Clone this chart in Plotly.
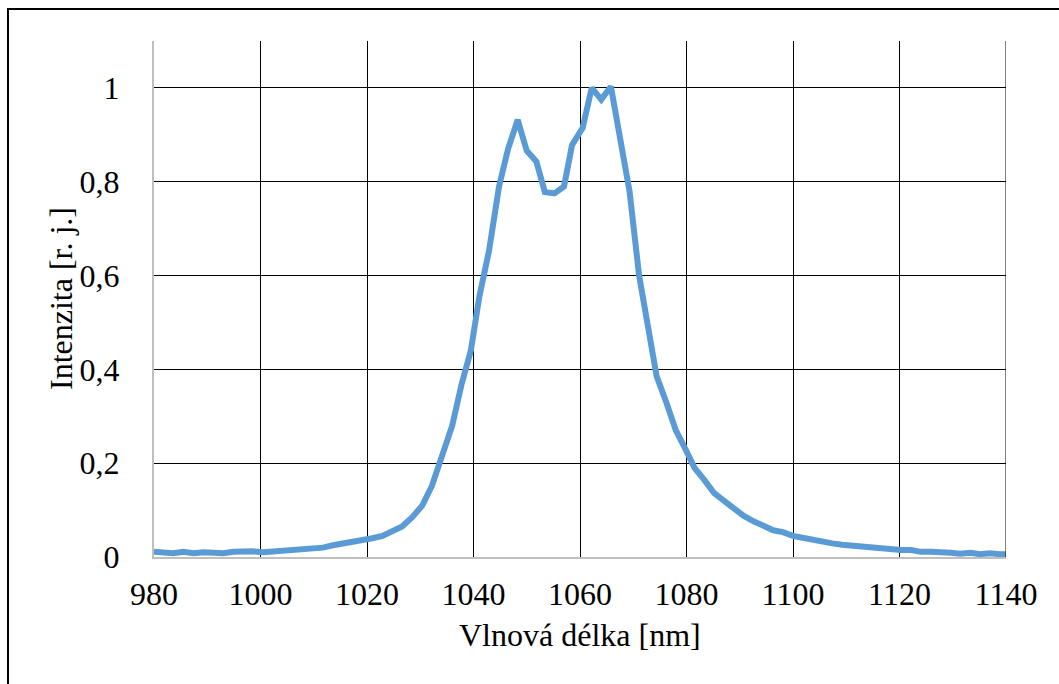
import plotly.graph_objects as go

# Emission spectrum: wavelength [nm] and normalised intensity
wavelength = [
    980.0, 981.8, 983.6, 985.5, 987.4, 989.3, 991.1, 993.0, 994.9, 996.8,
    998.6, 1000.5, 1002.4, 1004.2, 1006.1, 1008.0, 1009.8, 1011.7, 1013.6, 1015.4,
    1017.3, 1019.2, 1021.0, 1022.9, 1024.8, 1026.6, 1028.5, 1030.4, 1032.2, 1034.1,
    1036.0, 1037.8, 1039.5, 1041.1, 1042.9, 1044.8, 1046.5, 1048.3, 1050.0, 1051.8,
    1053.4, 1055.2, 1057.0, 1058.5, 1060.5, 1062.2, 1064.0, 1065.8, 1067.6, 1069.3,
    1071.1, 1072.9, 1074.4, 1076.2, 1078.0, 1079.8, 1081.5, 1083.3, 1085.2, 1087.0,
    1088.9, 1090.7, 1092.6, 1094.4, 1096.3, 1098.1, 1100.0, 1101.8, 1103.7, 1105.5,
    1107.4, 1109.2, 1111.1, 1112.9, 1114.8, 1116.6, 1118.5, 1120.3, 1122.2, 1124.0,
    1125.9, 1127.7, 1129.6, 1131.4, 1133.3, 1135.1, 1137.0, 1138.8, 1140.0,
]
intensity = [
    0.011, 0.009, 0.008, 0.011, 0.008, 0.010, 0.009, 0.008, 0.011, 0.012,
    0.012, 0.010, 0.012, 0.013, 0.013, 0.016, 0.018, 0.020, 0.025, 0.028,
    0.032, 0.034, 0.040, 0.045, 0.054, 0.065, 0.085, 0.110, 0.152, 0.215,
    0.280, 0.370, 0.440, 0.555, 0.652, 0.790, 0.870, 0.932, 0.866, 0.843,
    0.778, 0.775, 0.790, 0.878, 0.915, 1.000, 0.975, 1.003, 0.895, 0.780,
    0.600, 0.490, 0.385, 0.330, 0.270, 0.230, 0.190, 0.165, 0.136, 0.120,
    0.103, 0.088, 0.076, 0.068, 0.057, 0.053, 0.045, 0.041, 0.036, 0.033,
    0.029, 0.026, 0.024, 0.021, 0.020, 0.019, 0.017, 0.015, 0.015, 0.011,
    0.011, 0.011, 0.009, 0.007, 0.009, 0.006, 0.008, 0.006, 0.006,
]

x_ticks = [980, 1000, 1020, 1040, 1060, 1080, 1100, 1120, 1140]
y_ticks = [0, 0.2, 0.4, 0.6, 0.8, 1.0]
y_tick_text = ["0", "0,2", "0,4", "0,6", "0,8", "1"]
x_title = "Vlnová délka [nm]"
y_title = "Intenzita [r. j.]"

FONT = "Liberation Serif"
FS = 32

fig = go.Figure()
fig.add_trace(go.Scatter(
    x=wavelength, y=intensity, mode="lines",
    line=dict(color="#5b9bd5", width=6),
    showlegend=False, hoverinfo="skip",
))

W, H = 1059, 684
L, R, T, B = 154, 53, 41, 127
pw, ph = W - L - R, H - T - B

fig.update_layout(
    width=W, height=H,
    margin=dict(l=L, r=R, t=T, b=B),
    paper_bgcolor="white", plot_bgcolor="white",
    font=dict(family=FONT, size=FS, color="black"),
    xaxis=dict(
        range=[980, 1140], tickvals=x_ticks, ticktext=[str(v) for v in x_ticks],
        showgrid=True, gridcolor="black", gridwidth=1,
        showline=True, linecolor="#bfbfbf", linewidth=2,
        zeroline=False, ticks="", ticklabelstandoff=8,
        tickfont=dict(family=FONT, size=FS),
    ),
    yaxis=dict(
        range=[0, 1.1], tickvals=y_ticks, ticktext=y_tick_text,
        showgrid=True, gridcolor="black", gridwidth=1,
        showline=True, linecolor="#bfbfbf", linewidth=2,
        zeroline=False, ticks="", ticklabelstandoff=26,
        tickfont=dict(family=FONT, size=FS),
    ),
)

# Axis titles
fig.add_annotation(text=x_title, xref="paper", yref="paper",
                   x=0.5, y=(557 - 635) / ph, xanchor="center", yanchor="middle",
                   showarrow=False, font=dict(family=FONT, size=FS, color="black"))
fig.add_annotation(text=y_title, xref="paper", yref="paper",
                   x=(61 - L) / pw, y=0.5, xanchor="center", yanchor="middle",
                   textangle=-90, showarrow=False,
                   font=dict(family=FONT, size=FS, color="black"))

# Black grid line at the right end of the x range
fig.add_shape(type="line", xref="x", yref="paper", x0=1140, x1=1140, y0=0, y1=1,
              line=dict(color="black", width=1))

# Outer frame of the chart
fig.add_shape(
    type="rect", xref="paper", yref="paper",
    x0=(8 - L) / pw, x1=(W + 10 - L) / pw,
    y0=-(B + 10) / ph, y1=1 + (T - 9) / ph,
    line=dict(color="black", width=2), layer="above",
)

fig.write_html("out.html")
